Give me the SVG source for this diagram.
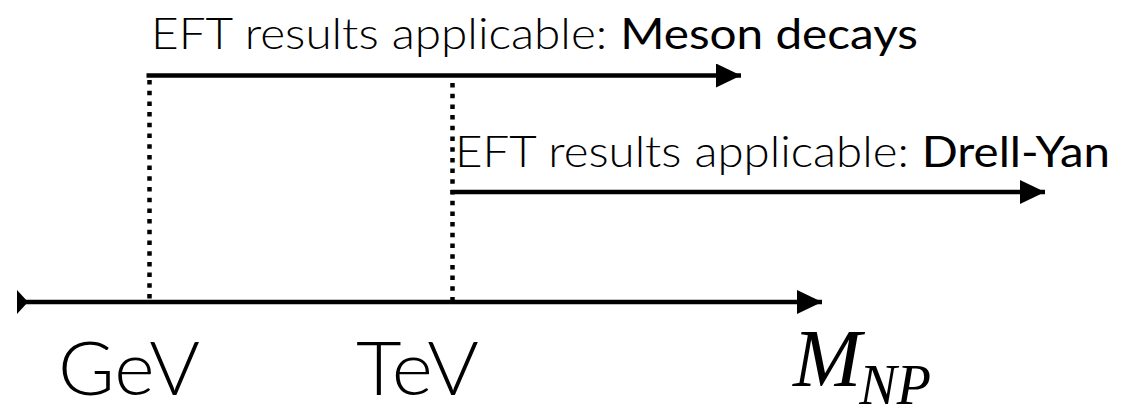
<svg xmlns="http://www.w3.org/2000/svg" width="1132" height="407" viewBox="0 0 1132 407">
<style>
.lbl{font-family:Lato,"Open Sans","Liberation Sans",sans-serif;font-weight:300;fill:#000}
.b{font-weight:400}
.ax{font-family:Lato,"Open Sans","Liberation Sans",sans-serif;font-weight:300;font-size:75px;fill:#000}
.m{font-family:"Liberation Serif","Times New Roman",serif;font-style:italic;fill:#000}
.arr{stroke:#000;stroke-width:4.5;fill:none}
.dot{stroke:#000;stroke-width:4.5;stroke-dasharray:4.5 6.2;fill:none}
</style>
<defs>
<marker id="ah" markerUnits="userSpaceOnUse" markerWidth="26" markerHeight="26" refX="25" refY="12" orient="auto">
<path d="M0,0 L25,12 L0,24 Z" fill="#000"/>
</marker>
</defs>
<g id="connectors">
<line class="dot" x1="149.5" y1="80" x2="149.5" y2="300"/>
<line class="dot" x1="452.5" y1="83" x2="452.5" y2="300"/>
<line class="arr" x1="146.5" y1="75.5" x2="741" y2="75.5" marker-end="url(#ah)"/>
<line class="arr" x1="450.5" y1="192" x2="1045" y2="192" marker-end="url(#ah)"/>
<line class="arr" x1="18" y1="302" x2="822" y2="302" marker-end="url(#ah)"/>
<path d="M17,290 L28,302 L17,314 Z" fill="#000"/>
</g>
<g id="label-meson">
<text class="lbl" x="151" y="48.5" font-size="43" textLength="767" lengthAdjust="spacingAndGlyphs">EFT results applicable: <tspan class="b">Meson decays</tspan></text>
</g>
<g id="label-dy">
<text class="lbl" x="455" y="167" font-size="43" textLength="655" lengthAdjust="spacingAndGlyphs">EFT results applicable: <tspan class="b">Drell-Yan</tspan></text>
</g>
<g id="gev">
<text class="ax" x="58" y="395" textLength="142" lengthAdjust="spacingAndGlyphs">GeV</text>
</g>
<g id="tev">
<text class="ax" x="356" y="395" textLength="123" lengthAdjust="spacingAndGlyphs">TeV</text>
</g>
<g id="mnp">
<text class="m" x="793" y="386" font-size="82">M<tspan font-size="56" dx="-2" dy="18">NP</tspan></text>
</g>
</svg>
